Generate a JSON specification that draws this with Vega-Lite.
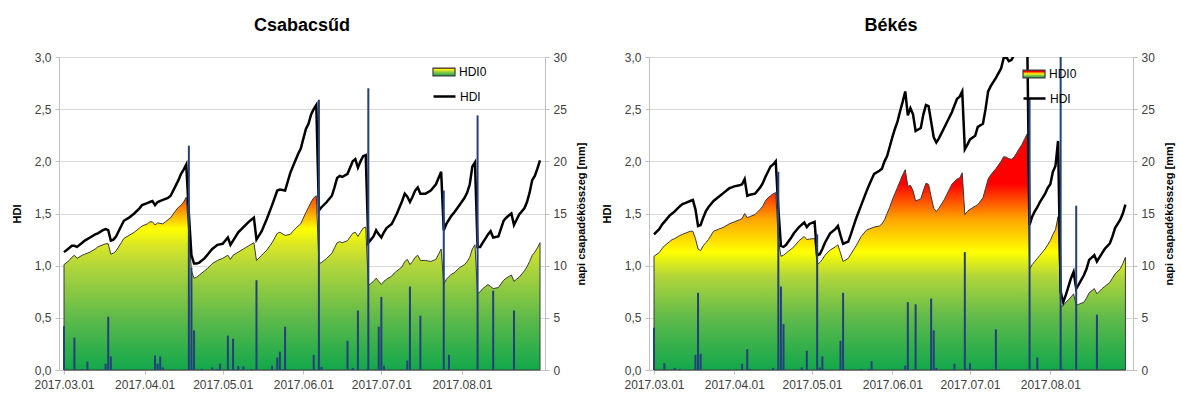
{
  "$schema": "https://vega.github.io/schema/vega-lite/v6.json",
  "background": "white",
  "padding": {"left": 11, "top": 17, "right": 4, "bottom": 0},
  "config": {
    "font": "Liberation Sans",
    "view": {"stroke": null},
    "concat": {"spacing": 14},
    "axis": {
      "labelFont": "Liberation Sans", "labelFontSize": 12, "labelColor": "#404040",
      "titleFont": "Liberation Sans", "titleFontSize": 11, "titleFontWeight": "bold", "titleColor": "#000000",
      "domainColor": "#bfbfbf", "tickColor": "#bfbfbf", "gridColor": "#d9d9d9", "tickSize": 4, "labelPadding": 4
    },
    "legend": {"labelFont": "Liberation Sans", "labelFontSize": 12, "labelColor": "#000000"},
    "title": {"font": "Liberation Sans", "fontSize": 18, "fontWeight": "bold", "color": "#000000"}
  },
  "datasets": {
    "c_line": [
      {"date":"2017-03-01","hdi":1.13,"hdi0":1.01},{"date":"2017-03-03","hdi":1.17,"hdi0":1.05},{"date":"2017-03-04","hdi":1.19,"hdi0":1.08},{"date":"2017-03-05","hdi":1.19,"hdi0":1.10},{"date":"2017-03-06","hdi":1.18,"hdi0":1.07},{"date":"2017-03-08","hdi":1.22,"hdi0":1.10},{"date":"2017-03-09","hdi":1.24,"hdi0":1.11},{"date":"2017-03-11","hdi":1.27,"hdi0":1.13},{"date":"2017-03-13","hdi":1.30,"hdi0":1.16},{"date":"2017-03-14","hdi":1.31,"hdi0":1.18},{"date":"2017-03-16","hdi":1.34,"hdi0":1.20},{"date":"2017-03-17","hdi":1.35,"hdi0":1.21},{"date":"2017-03-18","hdi":1.34,"hdi0":1.21},{"date":"2017-03-19","hdi":1.24,"hdi0":1.11},{"date":"2017-03-20","hdi":1.25,"hdi0":1.12},{"date":"2017-03-21","hdi":1.28,"hdi0":1.14},{"date":"2017-03-23","hdi":1.38,"hdi0":1.22},{"date":"2017-03-24","hdi":1.43,"hdi0":1.26},{"date":"2017-03-26","hdi":1.46,"hdi0":1.29},{"date":"2017-03-28","hdi":1.50,"hdi0":1.32},{"date":"2017-03-30","hdi":1.55,"hdi0":1.36},{"date":"2017-03-31","hdi":1.58,"hdi0":1.38},
      {"date":"2017-04-02","hdi":1.60,"hdi0":1.40},{"date":"2017-04-03","hdi":1.61,"hdi0":1.42},{"date":"2017-04-04","hdi":1.62,"hdi0":1.42},{"date":"2017-04-05","hdi":1.58,"hdi0":1.39},{"date":"2017-04-06","hdi":1.61,"hdi0":1.41},{"date":"2017-04-08","hdi":1.63,"hdi0":1.40},{"date":"2017-04-10","hdi":1.65,"hdi0":1.44},{"date":"2017-04-11","hdi":1.67,"hdi0":1.46},{"date":"2017-04-13","hdi":1.77,"hdi0":1.53},{"date":"2017-04-14","hdi":1.82,"hdi0":1.56},{"date":"2017-04-15","hdi":1.88,"hdi0":1.58},{"date":"2017-04-16","hdi":1.92,"hdi0":1.61},{"date":"2017-04-17","hdi":1.97,"hdi0":1.655},{"date":"2017-04-18","hdi":1.50,"hdi0":1.30},{"date":"2017-04-19","hdi":1.10,"hdi0":0.95},{"date":"2017-04-20","hdi":1.02,"hdi0":0.88},{"date":"2017-04-21","hdi":1.02,"hdi0":0.89},{"date":"2017-04-22","hdi":1.03,"hdi0":0.91},{"date":"2017-04-24","hdi":1.07,"hdi0":0.95},{"date":"2017-04-25","hdi":1.10,"hdi0":0.97},{"date":"2017-04-27","hdi":1.16,"hdi0":1.02},{"date":"2017-04-29","hdi":1.20,"hdi0":1.05},
      {"date":"2017-05-01","hdi":1.21,"hdi0":1.07},{"date":"2017-05-03","hdi":1.27,"hdi0":1.10},{"date":"2017-05-04","hdi":1.20,"hdi0":1.06},{"date":"2017-05-05","hdi":1.24,"hdi0":1.10},{"date":"2017-05-07","hdi":1.32,"hdi0":1.13},{"date":"2017-05-09","hdi":1.37,"hdi0":1.16},{"date":"2017-05-11","hdi":1.42,"hdi0":1.19},{"date":"2017-05-13","hdi":1.46,"hdi0":1.22},{"date":"2017-05-14","hdi":1.25,"hdi0":1.05},{"date":"2017-05-16","hdi":1.33,"hdi0":1.10},{"date":"2017-05-18","hdi":1.45,"hdi0":1.15},{"date":"2017-05-20","hdi":1.58,"hdi0":1.22},{"date":"2017-05-22","hdi":1.72,"hdi0":1.31},{"date":"2017-05-23","hdi":1.73,"hdi0":1.32},{"date":"2017-05-25","hdi":1.72,"hdi0":1.29},{"date":"2017-05-27","hdi":1.89,"hdi0":1.30},{"date":"2017-05-28","hdi":1.95,"hdi0":1.33},{"date":"2017-05-30","hdi":2.07,"hdi0":1.38},{"date":"2017-05-31","hdi":2.12,"hdi0":1.40},
      {"date":"2017-06-02","hdi":2.31,"hdi0":1.51},{"date":"2017-06-03","hdi":2.36,"hdi0":1.56},{"date":"2017-06-04","hdi":2.45,"hdi0":1.61},{"date":"2017-06-05","hdi":2.50,"hdi0":1.65},{"date":"2017-06-06","hdi":2.54,"hdi0":1.67},{"date":"2017-06-07","hdi":1.53,"hdi0":1.02},{"date":"2017-06-08","hdi":1.56,"hdi0":1.03},{"date":"2017-06-10","hdi":1.61,"hdi0":1.07},{"date":"2017-06-12","hdi":1.67,"hdi0":1.12},{"date":"2017-06-13","hdi":1.75,"hdi0":1.17},{"date":"2017-06-14","hdi":1.84,"hdi0":1.22},{"date":"2017-06-15","hdi":1.86,"hdi0":1.23},{"date":"2017-06-16","hdi":1.85,"hdi0":1.22},{"date":"2017-06-18","hdi":1.88,"hdi0":1.24},{"date":"2017-06-20","hdi":2.00,"hdi0":1.31},{"date":"2017-06-21","hdi":2.02,"hdi0":1.32},{"date":"2017-06-22","hdi":1.94,"hdi0":1.28},{"date":"2017-06-23","hdi":2.00,"hdi0":1.32},{"date":"2017-06-24","hdi":2.05,"hdi0":1.36},{"date":"2017-06-25","hdi":2.06,"hdi0":1.37},{"date":"2017-06-26","hdi":1.22,"hdi0":0.81},{"date":"2017-06-27","hdi":1.25,"hdi0":0.83},{"date":"2017-06-28","hdi":1.28,"hdi0":0.85},{"date":"2017-06-29","hdi":1.34,"hdi0":0.88},{"date":"2017-06-30","hdi":1.30,"hdi0":0.85},
      {"date":"2017-07-01","hdi":1.27,"hdi0":0.82},{"date":"2017-07-02","hdi":1.32,"hdi0":0.85},{"date":"2017-07-03","hdi":1.36,"hdi0":0.87},{"date":"2017-07-05","hdi":1.40,"hdi0":0.90},{"date":"2017-07-06","hdi":1.45,"hdi0":0.93},{"date":"2017-07-07","hdi":1.50,"hdi0":0.95},{"date":"2017-07-08","hdi":1.56,"hdi0":0.97},{"date":"2017-07-09","hdi":1.62,"hdi0":0.99},{"date":"2017-07-10","hdi":1.69,"hdi0":1.04},{"date":"2017-07-11","hdi":1.66,"hdi0":1.06},{"date":"2017-07-12","hdi":1.61,"hdi0":1.01},{"date":"2017-07-13","hdi":1.66,"hdi0":1.04},{"date":"2017-07-14","hdi":1.72,"hdi0":1.08},{"date":"2017-07-15","hdi":1.75,"hdi0":1.10},{"date":"2017-07-16","hdi":1.69,"hdi0":1.05},{"date":"2017-07-18","hdi":1.69,"hdi0":1.05},{"date":"2017-07-20","hdi":1.72,"hdi0":1.04},{"date":"2017-07-22","hdi":1.78,"hdi0":1.06},{"date":"2017-07-23","hdi":1.84,"hdi0":1.11},{"date":"2017-07-24","hdi":1.90,"hdi0":1.16},{"date":"2017-07-25","hdi":1.34,"hdi0":0.82},{"date":"2017-07-26","hdi":1.40,"hdi0":0.87},{"date":"2017-07-28","hdi":1.48,"hdi0":0.92},{"date":"2017-07-29","hdi":1.51,"hdi0":0.93},{"date":"2017-07-31","hdi":1.58,"hdi0":0.98},
      {"date":"2017-08-02","hdi":1.65,"hdi0":1.01},{"date":"2017-08-03","hdi":1.70,"hdi0":1.04},{"date":"2017-08-04","hdi":1.78,"hdi0":1.08},{"date":"2017-08-05","hdi":1.95,"hdi0":1.16},{"date":"2017-08-06","hdi":1.99,"hdi0":1.20},{"date":"2017-08-07","hdi":1.18,"hdi0":0.73},{"date":"2017-08-08","hdi":1.18,"hdi0":0.75},{"date":"2017-08-09","hdi":1.22,"hdi0":0.78},{"date":"2017-08-10","hdi":1.26,"hdi0":0.80},{"date":"2017-08-11","hdi":1.30,"hdi0":0.82},{"date":"2017-08-12","hdi":1.33,"hdi0":0.80},{"date":"2017-08-13","hdi":1.27,"hdi0":0.78},{"date":"2017-08-15","hdi":1.28,"hdi0":0.79},{"date":"2017-08-17","hdi":1.43,"hdi0":0.86},{"date":"2017-08-18","hdi":1.46,"hdi0":0.88},{"date":"2017-08-20","hdi":1.50,"hdi0":0.91},{"date":"2017-08-21","hdi":1.39,"hdi0":0.85},{"date":"2017-08-22","hdi":1.44,"hdi0":0.87},{"date":"2017-08-23","hdi":1.49,"hdi0":0.89},{"date":"2017-08-25","hdi":1.55,"hdi0":0.95},{"date":"2017-08-26","hdi":1.61,"hdi0":0.99},{"date":"2017-08-27","hdi":1.70,"hdi0":1.04},{"date":"2017-08-28","hdi":1.82,"hdi0":1.10},{"date":"2017-08-29","hdi":1.86,"hdi0":1.13},{"date":"2017-08-30","hdi":1.93,"hdi0":1.17},{"date":"2017-08-31","hdi":2.01,"hdi0":1.22}
    ],
    "c_rain": [
      {"date":"2017-03-01","p":4.2},{"date":"2017-03-05","p":3.1},{"date":"2017-03-08","p":0.1},{"date":"2017-03-10","p":0.8},{"date":"2017-03-17","p":0.6},{"date":"2017-03-18","p":5.1},{"date":"2017-03-19","p":1.3},{"date":"2017-04-05","p":1.4},{"date":"2017-04-06","p":0.6},{"date":"2017-04-07","p":1.3},{"date":"2017-04-08","p":0.25},{"date":"2017-04-18","p":21.5},{"date":"2017-04-19","p":9.8},{"date":"2017-04-20","p":3.8},{"date":"2017-04-23","p":0.1},{"date":"2017-04-27","p":0.25},{"date":"2017-04-29","p":0.1},{"date":"2017-04-30","p":0.6},{"date":"2017-05-03","p":3.3},{"date":"2017-05-05","p":3.0},{"date":"2017-05-07","p":0.4},{"date":"2017-05-09","p":0.35},{"date":"2017-05-12","p":0.1},{"date":"2017-05-14","p":8.6},{"date":"2017-05-20","p":0.4},{"date":"2017-05-22","p":1.2},{"date":"2017-05-23","p":1.75},{"date":"2017-05-25","p":4.15},{"date":"2017-06-05","p":1.45},{"date":"2017-06-07","p":25.9},{"date":"2017-06-08","p":0.3},{"date":"2017-06-18","p":2.8},{"date":"2017-06-20","p":0.2},{"date":"2017-06-22","p":5.7},{"date":"2017-06-26","p":27.0},{"date":"2017-06-30","p":4.15},{"date":"2017-07-01","p":7.0},{"date":"2017-07-02","p":0.4},{"date":"2017-07-11","p":0.9},{"date":"2017-07-12","p":8.0},{"date":"2017-07-16","p":5.2},{"date":"2017-07-25","p":17.2},{"date":"2017-07-27","p":1.45},{"date":"2017-08-07","p":24.4},{"date":"2017-08-13","p":7.6},{"date":"2017-08-21","p":5.7}
    ],
    "b_line": [
      {"date":"2017-03-01","hdi":1.30,"hdi0":1.09},{"date":"2017-03-03","hdi":1.35,"hdi0":1.125},{"date":"2017-03-04","hdi":1.39,"hdi0":1.16},{"date":"2017-03-05","hdi":1.42,"hdi0":1.19},{"date":"2017-03-07","hdi":1.48,"hdi0":1.23},{"date":"2017-03-08","hdi":1.50,"hdi0":1.25},{"date":"2017-03-09","hdi":1.52,"hdi0":1.26},{"date":"2017-03-11","hdi":1.57,"hdi0":1.29},{"date":"2017-03-12","hdi":1.59,"hdi0":1.30},{"date":"2017-03-13","hdi":1.60,"hdi0":1.31},{"date":"2017-03-15","hdi":1.62,"hdi0":1.33},{"date":"2017-03-16","hdi":1.63,"hdi0":1.33},{"date":"2017-03-17","hdi":1.54,"hdi0":1.26},{"date":"2017-03-18","hdi":1.38,"hdi0":1.16},{"date":"2017-03-19","hdi":1.39,"hdi0":1.145},{"date":"2017-03-20","hdi":1.46,"hdi0":1.19},{"date":"2017-03-21","hdi":1.52,"hdi0":1.22},{"date":"2017-03-22","hdi":1.56,"hdi0":1.25},{"date":"2017-03-24","hdi":1.62,"hdi0":1.33},{"date":"2017-03-26","hdi":1.66,"hdi0":1.35},{"date":"2017-03-28","hdi":1.70,"hdi0":1.37},{"date":"2017-03-30","hdi":1.74,"hdi0":1.40},
      {"date":"2017-04-01","hdi":1.76,"hdi0":1.42},{"date":"2017-04-03","hdi":1.77,"hdi0":1.44},{"date":"2017-04-04","hdi":1.78,"hdi0":1.45},{"date":"2017-04-05","hdi":1.83,"hdi0":1.50},{"date":"2017-04-06","hdi":1.67,"hdi0":1.46},{"date":"2017-04-07","hdi":1.68,"hdi0":1.47},{"date":"2017-04-09","hdi":1.69,"hdi0":1.49},{"date":"2017-04-11","hdi":1.75,"hdi0":1.54},{"date":"2017-04-12","hdi":1.79,"hdi0":1.57},{"date":"2017-04-13","hdi":1.85,"hdi0":1.62},{"date":"2017-04-14","hdi":1.90,"hdi0":1.65},{"date":"2017-04-15","hdi":1.95,"hdi0":1.67},{"date":"2017-04-16","hdi":1.97,"hdi0":1.69},{"date":"2017-04-17","hdi":2.00,"hdi0":1.70},{"date":"2017-04-18","hdi":1.55,"hdi0":1.25},{"date":"2017-04-19","hdi":1.19,"hdi0":1.09},{"date":"2017-04-20","hdi":1.18,"hdi0":1.10},{"date":"2017-04-21","hdi":1.20,"hdi0":1.12},{"date":"2017-04-23","hdi":1.27,"hdi0":1.16},{"date":"2017-04-24","hdi":1.31,"hdi0":1.18},{"date":"2017-04-26","hdi":1.37,"hdi0":1.24},{"date":"2017-04-28","hdi":1.415,"hdi0":1.28},{"date":"2017-04-29","hdi":1.37,"hdi0":1.25},{"date":"2017-04-30","hdi":1.40,"hdi0":1.255},
      {"date":"2017-05-02","hdi":1.42,"hdi0":1.26},{"date":"2017-05-03","hdi":1.10,"hdi0":1.01},{"date":"2017-05-04","hdi":1.11,"hdi0":1.03},{"date":"2017-05-05","hdi":1.16,"hdi0":1.06},{"date":"2017-05-06","hdi":1.22,"hdi0":1.10},{"date":"2017-05-08","hdi":1.31,"hdi0":1.15},{"date":"2017-05-10","hdi":1.35,"hdi0":1.18},{"date":"2017-05-11","hdi":1.38,"hdi0":1.20},{"date":"2017-05-12","hdi":1.29,"hdi0":1.12},{"date":"2017-05-13","hdi":1.21,"hdi0":1.04},{"date":"2017-05-15","hdi":1.23,"hdi0":1.07},{"date":"2017-05-16","hdi":1.30,"hdi0":1.11},{"date":"2017-05-18","hdi":1.45,"hdi0":1.19},{"date":"2017-05-20","hdi":1.58,"hdi0":1.28},{"date":"2017-05-22","hdi":1.71,"hdi0":1.34},{"date":"2017-05-23","hdi":1.77,"hdi0":1.35},{"date":"2017-05-25","hdi":1.88,"hdi0":1.37},{"date":"2017-05-27","hdi":1.91,"hdi0":1.38},{"date":"2017-05-28","hdi":1.93,"hdi0":1.40},{"date":"2017-05-29","hdi":2.00,"hdi0":1.44},{"date":"2017-05-30","hdi":2.05,"hdi0":1.50},{"date":"2017-05-31","hdi":2.14,"hdi0":1.56},
      {"date":"2017-06-01","hdi":2.23,"hdi0":1.63},{"date":"2017-06-02","hdi":2.31,"hdi0":1.69},{"date":"2017-06-03","hdi":2.38,"hdi0":1.75},{"date":"2017-06-04","hdi":2.48,"hdi0":1.81},{"date":"2017-06-05","hdi":2.57,"hdi0":1.87},{"date":"2017-06-06","hdi":2.67,"hdi0":1.92},{"date":"2017-06-07","hdi":2.44,"hdi0":1.76},{"date":"2017-06-08","hdi":2.51,"hdi0":1.77},{"date":"2017-06-09","hdi":2.45,"hdi0":1.72},{"date":"2017-06-10","hdi":2.29,"hdi0":1.62},{"date":"2017-06-12","hdi":2.32,"hdi0":1.64},{"date":"2017-06-13","hdi":2.45,"hdi0":1.72},{"date":"2017-06-14","hdi":2.54,"hdi0":1.79},{"date":"2017-06-15","hdi":2.53,"hdi0":1.78},{"date":"2017-06-16","hdi":2.38,"hdi0":1.66},{"date":"2017-06-17","hdi":2.23,"hdi0":1.55},{"date":"2017-06-18","hdi":2.18,"hdi0":1.52},{"date":"2017-06-19","hdi":2.22,"hdi0":1.55},{"date":"2017-06-21","hdi":2.32,"hdi0":1.63},{"date":"2017-06-23","hdi":2.42,"hdi0":1.73},{"date":"2017-06-24","hdi":2.47,"hdi0":1.78},{"date":"2017-06-26","hdi":2.60,"hdi0":1.83},{"date":"2017-06-27","hdi":2.62,"hdi0":1.84},{"date":"2017-06-28","hdi":2.67,"hdi0":1.89},{"date":"2017-06-29","hdi":2.115,"hdi0":1.49},{"date":"2017-06-30","hdi":2.16,"hdi0":1.52},
      {"date":"2017-07-01","hdi":2.21,"hdi0":1.54},{"date":"2017-07-03","hdi":2.245,"hdi0":1.57},{"date":"2017-07-04","hdi":2.33,"hdi0":1.585},{"date":"2017-07-06","hdi":2.36,"hdi0":1.65},{"date":"2017-07-07","hdi":2.50,"hdi0":1.74},{"date":"2017-07-08","hdi":2.67,"hdi0":1.83},{"date":"2017-07-09","hdi":2.72,"hdi0":1.87},{"date":"2017-07-11","hdi":2.80,"hdi0":1.93},{"date":"2017-07-13","hdi":2.89,"hdi0":2.00},{"date":"2017-07-14","hdi":2.99,"hdi0":2.045},{"date":"2017-07-15","hdi":3.00,"hdi0":2.04},{"date":"2017-07-16","hdi":2.96,"hdi0":2.025},{"date":"2017-07-17","hdi":2.97,"hdi0":2.02},{"date":"2017-07-18","hdi":3.02,"hdi0":2.04},{"date":"2017-07-19","hdi":3.08,"hdi0":2.08},{"date":"2017-07-20","hdi":3.14,"hdi0":2.12},{"date":"2017-07-21","hdi":3.20,"hdi0":2.16},{"date":"2017-07-22","hdi":3.28,"hdi0":2.21},{"date":"2017-07-23","hdi":3.35,"hdi0":2.26},{"date":"2017-07-24","hdi":1.39,"hdi0":0.965},{"date":"2017-07-25","hdi":1.47,"hdi0":1.01},{"date":"2017-07-26","hdi":1.52,"hdi0":1.04},{"date":"2017-07-27","hdi":1.56,"hdi0":1.07},{"date":"2017-07-28","hdi":1.61,"hdi0":1.10},{"date":"2017-07-29","hdi":1.65,"hdi0":1.13},{"date":"2017-07-30","hdi":1.69,"hdi0":1.16},{"date":"2017-07-31","hdi":1.745,"hdi0":1.20},
      {"date":"2017-08-01","hdi":1.78,"hdi0":1.24},{"date":"2017-08-02","hdi":1.90,"hdi0":1.30},{"date":"2017-08-03","hdi":1.955,"hdi0":1.345},{"date":"2017-08-04","hdi":2.195,"hdi0":1.47},{"date":"2017-08-05","hdi":0.75,"hdi0":0.60},{"date":"2017-08-06","hdi":0.65,"hdi0":0.62},{"date":"2017-08-07","hdi":0.72,"hdi0":0.65},{"date":"2017-08-08","hdi":0.80,"hdi0":0.67},{"date":"2017-08-09","hdi":0.88,"hdi0":0.70},{"date":"2017-08-10","hdi":0.94,"hdi0":0.73},{"date":"2017-08-11","hdi":0.78,"hdi0":0.62},{"date":"2017-08-12","hdi":0.82,"hdi0":0.63},{"date":"2017-08-14","hdi":0.91,"hdi0":0.65},{"date":"2017-08-15","hdi":0.97,"hdi0":0.69},{"date":"2017-08-16","hdi":1.055,"hdi0":0.74},{"date":"2017-08-18","hdi":1.10,"hdi0":0.78},{"date":"2017-08-19","hdi":1.04,"hdi0":0.73},{"date":"2017-08-21","hdi":1.12,"hdi0":0.78},{"date":"2017-08-22","hdi":1.16,"hdi0":0.80},{"date":"2017-08-24","hdi":1.215,"hdi0":0.84},{"date":"2017-08-25","hdi":1.28,"hdi0":0.88},{"date":"2017-08-26","hdi":1.36,"hdi0":0.92},{"date":"2017-08-28","hdi":1.44,"hdi0":0.97},{"date":"2017-08-29","hdi":1.50,"hdi0":1.02},{"date":"2017-08-30","hdi":1.585,"hdi0":1.08}
    ],
    "b_rain": [
      {"date":"2017-03-01","p":4.05},{"date":"2017-03-05","p":0.65},{"date":"2017-03-09","p":0.2},{"date":"2017-03-11","p":0.1},{"date":"2017-03-17","p":1.45},{"date":"2017-03-18","p":7.4},{"date":"2017-03-19","p":1.55},{"date":"2017-04-04","p":0.6},{"date":"2017-04-06","p":2.0},{"date":"2017-04-07","p":0.1},{"date":"2017-04-16","p":0.2},{"date":"2017-04-18","p":19.0},{"date":"2017-04-19","p":8.0},{"date":"2017-04-20","p":4.4},{"date":"2017-04-27","p":0.25},{"date":"2017-04-29","p":1.85},{"date":"2017-05-03","p":13.0},{"date":"2017-05-04","p":0.25},{"date":"2017-05-05","p":1.3},{"date":"2017-05-12","p":2.8},{"date":"2017-05-13","p":7.4},{"date":"2017-05-20","p":0.1},{"date":"2017-05-23","p":0.1},{"date":"2017-05-24","p":0.85},{"date":"2017-06-06","p":0.4},{"date":"2017-06-07","p":6.5},{"date":"2017-06-10","p":6.3},{"date":"2017-06-16","p":6.85},{"date":"2017-06-17","p":3.8},{"date":"2017-06-18","p":0.2},{"date":"2017-06-25","p":0.6},{"date":"2017-06-29","p":11.3},{"date":"2017-06-30","p":0.1},{"date":"2017-07-01","p":0.65},{"date":"2017-07-11","p":3.9},{"date":"2017-07-24","p":26.0},{"date":"2017-07-27","p":1.2},{"date":"2017-08-05","p":30.0},{"date":"2017-08-06","p":0.1},{"date":"2017-08-11","p":15.75},{"date":"2017-08-19","p":5.3}
    ]
  },
  "resolve": {"scale": {"stroke": "independent", "opacity": "independent"}, "legend": {"stroke": "independent", "opacity": "independent"}},
  "hconcat": [
    {
      "title": {"text": "Csabacsűd", "frame": "group", "offset": 16},
      "width": 486,
      "height": 313,
      "resolve": {"scale": {"y": "independent"}},
      "layer": [
        {
          "layer": [
            {
              "data": {"name": "c_line"},
              "mark": {"type": "area", "strokeWidth": 1, "fill": {"gradient": "linear", "x1": 0, "y1": 1, "x2": 0, "y2": 0, "stops": [{"offset": 0, "color": "#12a84c"}, {"offset": 0.3, "color": "#5fba4a"}, {"offset": 0.6, "color": "#b3d63a"}, {"offset": 0.72, "color": "#dbe724"}, {"offset": 0.81, "color": "#ffff00"}, {"offset": 0.9, "color": "#ffa500"}, {"offset": 1, "color": "#ff3c00"}]}},
              "encoding": {
                "x": {"field": "date", "type": "temporal", "scale": {"type": "utc", "domain": [{"year": 2017, "month": 3, "date": 1, "utc": true}, {"year": 2017, "month": 8, "date": 31, "utc": true}]},
                  "axis": {"title": null, "format": "%Y.%m.%d", "labelFlush": false, "labelOverlap": false, "labelPadding": 5, "grid": false, "values": [{"year": 2017, "month": 3, "date": 1, "utc": true}, {"year": 2017, "month": 4, "date": 1, "utc": true}, {"year": 2017, "month": 5, "date": 1, "utc": true}, {"year": 2017, "month": 6, "date": 1, "utc": true}, {"year": 2017, "month": 7, "date": 1, "utc": true}, {"year": 2017, "month": 8, "date": 1, "utc": true}]}},
                "y": {"field": "hdi0", "type": "quantitative", "scale": {"domain": [0, 3]}, "axis": {"title": "HDI", "values": [0, 0.5, 1, 1.5, 2, 2.5, 3], "labelExpr": "replace(format(datum.value, '.1f'), '.', ',')", "grid": true, "titlePadding": 12}},
                "stroke": {"datum": "HDI0", "type": "nominal", "scale": {"range": ["#3a3a3a"]},
                  "legend": {"title": null, "orient": "none", "legendX": 373, "legendY": 3, "padding": 0, "symbolType": "M-1,-0.36H1V0.36H-1Z", "symbolSize": 484, "symbolStrokeWidth": 1.2, "symbolStrokeColor": "#000000", "labelOffset": 3,
                    "encode": {"symbols": {"update": {"fill": {"value": {"gradient": "linear", "x1": 0, "y1": 1, "x2": 0, "y2": 0, "stops": [{"offset": 0, "color": "#12a84c"}, {"offset": 0.5, "color": "#b3d63a"}, {"offset": 0.75, "color": "#ffff00"}, {"offset": 1, "color": "#ff3c00"}]}}, "shape": {"value": "M-1,-0.36H1V0.36H-1Z"}, "stroke": {"value": "#000000"}, "strokeWidth": {"value": 1.2}, "opacity": {"value": 1}}}}}}
              }
            },
            {
              "data": {"name": "c_line"},
              "mark": {"type": "line", "strokeWidth": 2.5, "clip": true, "color": "#000000"},
              "encoding": {
                "x": {"field": "date", "type": "temporal"},
                "y": {"field": "hdi", "type": "quantitative", "axis": {"title": "HDI", "values": [0, 0.5, 1, 1.5, 2, 2.5, 3], "labelExpr": "replace(format(datum.value, '.1f'), '.', ',')", "grid": true, "titlePadding": 12}},
                "opacity": {"datum": "HDI", "type": "nominal", "scale": {"range": [1]},
                  "legend": {"title": null, "orient": "none", "legendX": 373, "legendY": 27, "padding": 0, "symbolType": "stroke", "symbolSize": 484, "symbolStrokeWidth": 2.5, "symbolStrokeColor": "#000000", "labelOffset": 3,
                    "encode": {"symbols": {"update": {"shape": {"value": "stroke"}, "stroke": {"value": "#000000"}, "strokeWidth": {"value": 2.5}, "opacity": {"value": 1}}}}}}
              }
            }
          ]
        },
        {
          "data": {"name": "c_rain"},
          "mark": {"type": "bar", "width": 2, "color": "#23407a"},
          "encoding": {
            "x": {"field": "date", "type": "temporal"},
            "y": {"field": "p", "type": "quantitative", "scale": {"domain": [0, 30]}, "axis": {"orient": "right", "title": "napi csapadékösszeg [mm]", "titleAngle": 270, "titleBaseline": "top", "values": [0, 5, 10, 15, 20, 25, 30], "grid": false, "titlePadding": 9}}
          }
        }
      ]
    },
    {
      "title": {"text": "Békés", "frame": "group", "offset": 16},
      "width": 484,
      "height": 313,
      "resolve": {"scale": {"y": "independent"}},
      "layer": [
        {
          "layer": [
            {
              "data": {"name": "b_line"},
              "mark": {"type": "area", "strokeWidth": 1, "fill": {"gradient": "linear", "x1": 0, "y1": 1, "x2": 0, "y2": 0, "stops": [{"offset": 0, "color": "#12a84c"}, {"offset": 0.22, "color": "#5fba4a"}, {"offset": 0.4, "color": "#b3d63a"}, {"offset": 0.5, "color": "#ffff00"}, {"offset": 0.64, "color": "#ffa500"}, {"offset": 0.79, "color": "#ff0000"}, {"offset": 1, "color": "#ff0000"}]}},
              "encoding": {
                "x": {"field": "date", "type": "temporal", "scale": {"type": "utc", "domain": [{"year": 2017, "month": 3, "date": 1, "utc": true}, {"year": 2017, "month": 8, "date": 31, "utc": true}]},
                  "axis": {"title": null, "format": "%Y.%m.%d", "labelFlush": false, "labelOverlap": false, "labelPadding": 5, "grid": false, "values": [{"year": 2017, "month": 3, "date": 1, "utc": true}, {"year": 2017, "month": 4, "date": 1, "utc": true}, {"year": 2017, "month": 5, "date": 1, "utc": true}, {"year": 2017, "month": 6, "date": 1, "utc": true}, {"year": 2017, "month": 7, "date": 1, "utc": true}, {"year": 2017, "month": 8, "date": 1, "utc": true}]}},
                "y": {"field": "hdi0", "type": "quantitative", "scale": {"domain": [0, 3]}, "axis": {"title": "HDI", "values": [0, 0.5, 1, 1.5, 2, 2.5, 3], "labelExpr": "replace(format(datum.value, '.1f'), '.', ',')", "grid": true, "titlePadding": 12}},
                "stroke": {"datum": "HDI0", "type": "nominal", "scale": {"range": ["#3a3a3a"]},
                  "legend": {"title": null, "orient": "none", "legendX": 373, "legendY": 5, "padding": 0, "symbolType": "M-1,-0.36H1V0.36H-1Z", "symbolSize": 484, "symbolStrokeWidth": 1.2, "symbolStrokeColor": "#000000", "labelOffset": 3,
                    "encode": {"symbols": {"update": {"fill": {"value": {"gradient": "linear", "x1": 0, "y1": 1, "x2": 0, "y2": 0, "stops": [{"offset": 0, "color": "#12a84c"}, {"offset": 0.5, "color": "#ffff00"}, {"offset": 1, "color": "#ff0000"}]}}, "shape": {"value": "M-1,-0.36H1V0.36H-1Z"}, "stroke": {"value": "#000000"}, "strokeWidth": {"value": 1.2}, "opacity": {"value": 1}}}}}}
              }
            },
            {
              "data": {"name": "b_line"},
              "mark": {"type": "line", "strokeWidth": 2.5, "clip": true, "color": "#000000"},
              "encoding": {
                "x": {"field": "date", "type": "temporal"},
                "y": {"field": "hdi", "type": "quantitative", "axis": {"title": "HDI", "values": [0, 0.5, 1, 1.5, 2, 2.5, 3], "labelExpr": "replace(format(datum.value, '.1f'), '.', ',')", "grid": true, "titlePadding": 12}},
                "opacity": {"datum": "HDI", "type": "nominal", "scale": {"range": [1]},
                  "legend": {"title": null, "orient": "none", "legendX": 373, "legendY": 29, "padding": 0, "symbolType": "stroke", "symbolSize": 484, "symbolStrokeWidth": 2.5, "symbolStrokeColor": "#000000", "labelOffset": 3,
                    "encode": {"symbols": {"update": {"shape": {"value": "stroke"}, "stroke": {"value": "#000000"}, "strokeWidth": {"value": 2.5}, "opacity": {"value": 1}}}}}}
              }
            }
          ]
        },
        {
          "data": {"name": "b_rain"},
          "mark": {"type": "bar", "width": 2, "color": "#23407a", "clip": true},
          "encoding": {
            "x": {"field": "date", "type": "temporal"},
            "y": {"field": "p", "type": "quantitative", "scale": {"domain": [0, 30]}, "axis": {"orient": "right", "title": "napi csapadékösszeg [mm]", "titleAngle": 270, "titleBaseline": "top", "values": [0, 5, 10, 15, 20, 25, 30], "grid": false, "titlePadding": 9}}
          }
        }
      ]
    }
  ]
}
